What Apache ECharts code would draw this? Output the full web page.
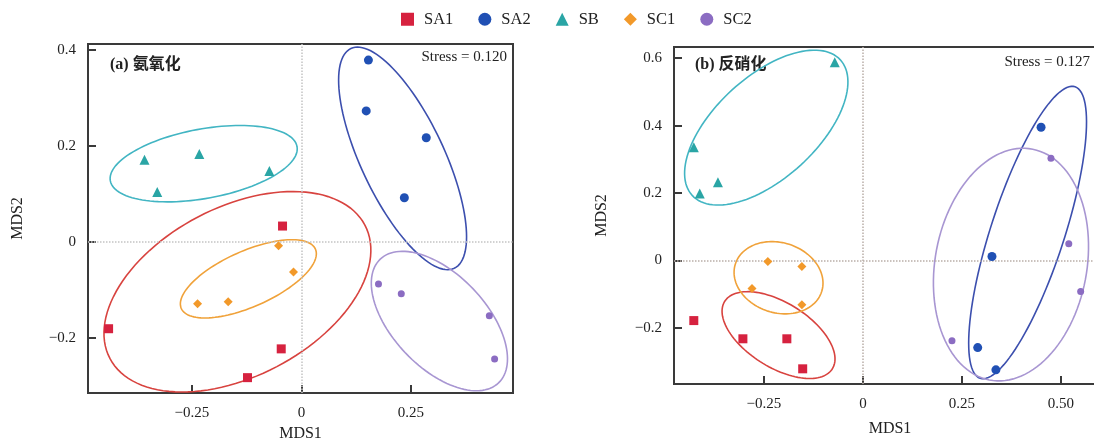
<!DOCTYPE html>
<html>
<head>
<meta charset="utf-8">
<script src="https://cdn.jsdelivr.net/npm/echarts@6/dist/echarts.min.js"></script>
<style>
  html, body { margin: 0; padding: 0; background: #fff; }
  #chart { width: 1094px; height: 439px; }
</style>
</head>
<body>
<div id="chart"></div>
<script>
// groups and legend
const groups = ["SA1", "SA2", "SB", "SC1", "SC2"];

// panel (a) sample points [MDS1, MDS2]
const aSA1 = [[-0.043, 0.033], [-0.440, -0.181], [-0.046, -0.223], [-0.123, -0.283]];
const aSA2 = [[0.153, 0.379], [0.148, 0.273], [0.285, 0.217], [0.235, 0.092]];
const aSB = [[-0.358, 0.171], [-0.233, 0.183], [-0.073, 0.148], [-0.329, 0.104]];
const aSC1 = [[-0.237, -0.129], [-0.167, -0.125], [-0.052, -0.008], [-0.018, -0.063]];
const aSC2 = [[0.176, -0.088], [0.228, -0.108], [0.429, -0.154], [0.441, -0.244]];

// panel (b) sample points
const bSA1 = [[-0.427, -0.178], [-0.303, -0.232], [-0.192, -0.232], [-0.152, -0.321]];
const bSA2 = [[0.450, 0.395], [0.326, 0.012], [0.290, -0.258], [0.336, -0.324]];
const bSB = [[-0.071, 0.588], [-0.427, 0.336], [-0.366, 0.232], [-0.412, 0.199]];
const bSC1 = [[-0.240, -0.003], [-0.154, -0.018], [-0.280, -0.083], [-0.154, -0.131]];
const bSC2 = [[0.475, 0.303], [0.520, 0.050], [0.550, -0.092], [0.225, -0.238]];

// confidence ellipses: [centerX, centerY, majorEndX, majorEndY, minorEndX, minorEndY]
const ellA = {
  SA1: [-0.146, -0.104, 0.145, 0.035, -0.056, -0.260],
  SA2: [0.231, 0.174, 0.349, -0.055, 0.317, 0.211],
  SB: [-0.223, 0.163, -0.010, 0.199, -0.208, 0.092],
  SC1: [-0.121, -0.077, 0.032, -0.015, -0.095, -0.130],
  SC2: [0.315, -0.165, 0.450, -0.294, 0.392, -0.098]
};
const ellB = {
  SA1: [-0.213, -0.221, -0.074, -0.314, -0.181, -0.132],
  SA2: [0.416, 0.083, 0.296, -0.349, 0.504, 0.048],
  SB: [-0.244, 0.394, -0.057, 0.595, -0.157, 0.283],
  SC1: [-0.213, -0.051, -0.104, -0.092, -0.186, 0.048],
  SC2: [0.374, -0.012, 0.319, -0.354, 0.562, -0.056]
};

// ticks
const aXTicks = [-0.25, 0, 0.25];
const aYTicks = [-0.2, 0, 0.2, 0.4];
const bXTicks = [-0.25, 0, 0.25, 0.5];
const bYTicks = [-0.2, 0, 0.2, 0.4, 0.6];
const xTickText = { "-0.25": "\u22120.25", "0": "0", "0.25": "0.25", "0.5": "0.50" };
const yTickText = { "-0.2": "\u22120.2", "0": "0", "0.2": "0.2", "0.4": "0.4", "0.6": "0.6" };

const stressA = "Stress = 0.120";
const stressB = "Stress = 0.127";

const style = {
  SA1: { symbol: "rect", size: 9, color: "#d6223f", ring: "#d8433f" },
  SA2: { symbol: "circle", size: 9, color: "#2050b4", ring: "#3c4fae" },
  SB: { symbol: "triangle", size: 10, color: "#2aa5a5", ring: "#42b5c3" },
  SC1: { symbol: "diamond", size: 9, color: "#f2992a", ring: "#f0a23a" },
  SC2: { symbol: "circle", size: 7, color: "#8b6cc2", ring: "#a896d2" }
};

const serif = "'Liberation Serif', 'Noto Sans CJK SC', serif";
const axisColor = "#3a3a3a";

function renderEllipse(params, api) {
  const c = api.coord([api.value(0), api.value(1)]);
  const m = api.coord([api.value(2), api.value(3)]);
  const n = api.coord([api.value(4), api.value(5)]);
  const ux = m[0] - c[0], uy = m[1] - c[1];
  const vx = n[0] - c[0], vy = n[1] - c[1];
  const pts = [];
  for (let i = 0; i <= 120; i++) {
    const t = (i / 120) * Math.PI * 2;
    pts.push([c[0] + ux * Math.cos(t) + vx * Math.sin(t), c[1] + uy * Math.cos(t) + vy * Math.sin(t)]);
  }
  return {
    type: "polyline",
    shape: { points: pts },
    style: { stroke: api.visual("color"), fill: null, lineWidth: 1.6 }
  };
}

function xAxisOf(idx, min, max, ticks, nameGap) {
  return {
    gridIndex: idx, type: "value", min, max,
    name: "MDS1", nameLocation: "middle", nameGap,
    nameTextStyle: { fontFamily: serif, fontSize: 16, color: "#222" },
    axisLine: { show: true, onZero: false, lineStyle: { color: axisColor, width: 2 } },
    axisTick: { show: true, inside: true, length: 8, customValues: ticks, lineStyle: { color: axisColor, width: 2 } },
    axisLabel: {
      customValues: ticks, margin: 13, fontFamily: serif, fontSize: 15, color: "#222",
      formatter: (v) => xTickText[String(v)]
    },
    splitLine: { show: false }
  };
}

function yAxisOf(idx, min, max, ticks, nameGap) {
  return {
    gridIndex: idx, type: "value", min, max,
    name: "MDS2", nameLocation: "middle", nameGap,
    nameTextStyle: { fontFamily: serif, fontSize: 16, color: "#222" },
    axisLine: { show: true, onZero: false, lineStyle: { color: axisColor, width: 2 } },
    axisTick: { show: true, inside: true, length: 8, customValues: ticks, lineStyle: { color: axisColor, width: 2 } },
    axisLabel: {
      customValues: ticks, margin: 12, fontFamily: serif, fontSize: 15, color: "#222",
      formatter: (v) => yTickText[String(v)]
    },
    splitLine: { show: false }
  };
}

const pointsA = { SA1: aSA1, SA2: aSA2, SB: aSB, SC1: aSC1, SC2: aSC2 };
const pointsB = { SA1: bSA1, SA2: bSA2, SB: bSB, SC1: bSC1, SC2: bSC2 };

const series = [];
[[pointsA, 0], [pointsB, 1]].forEach(([pts, idx]) => {
  groups.forEach((g) => {
    series.push({
      name: g, type: "scatter", xAxisIndex: idx, yAxisIndex: idx,
      data: pts[g], symbol: style[g].symbol, symbolSize: style[g].size,
      itemStyle: { color: style[g].color, opacity: 1 }, z: 5
    });
  });
});
[[ellA, 0], [ellB, 1]].forEach(([ell, idx]) => {
  groups.forEach((g) => {
    series.push({
      name: g, type: "custom", xAxisIndex: idx, yAxisIndex: idx,
      renderItem: renderEllipse,
      dimensions: ["cx", "cy", "mx", "my", "nx", "ny"],
      encode: { x: [0, 2, 4], y: [1, 3, 5] },
      data: [ell[g]], itemStyle: { color: style[g].ring }, z: 3, silent: true
    });
  });
});
[0, 1].forEach((idx) => {
  series.push({
    type: "scatter", xAxisIndex: idx, yAxisIndex: idx, data: [], silent: true,
    markLine: {
      silent: true, symbol: "none", label: { show: false },
      lineStyle: { color: idx ? "#b9aea8" : "#c4c4c4", type: "dotted", width: 1.5 },
      data: [{ xAxis: 0 }, { yAxis: 0 }]
    },
    z: 1
  });
});

const chart = echarts.init(document.getElementById("chart"));
chart.setOption({
  animation: false,
  backgroundColor: "#fff",
  legend: {
    data: groups.map((g) => ({ name: g, icon: style[g].symbol })),
    left: 396, top: 6, itemWidth: 13, itemHeight: 13, itemGap: 25,
    textStyle: { fontFamily: serif, fontSize: 16.5, color: "#222", padding: [0, 0, 0, 5] }
  },
  grid: [
    { left: 88, top: 44, width: 425, height: 349, show: true, borderColor: axisColor, borderWidth: 2, outerBoundsMode: "none" },
    { left: 674, top: 47, width: 432, height: 337, show: true, borderColor: axisColor, borderWidth: 2, outerBoundsMode: "none" }
  ],
  xAxis: [
    xAxisOf(0, -0.487, 0.483, aXTicks, 32),
    xAxisOf(1, -0.477, 0.614, bXTicks, 37)
  ],
  yAxis: [
    yAxisOf(0, -0.315, 0.4125, aYTicks, 62),
    yAxisOf(1, -0.366, 0.633, bYTicks, 64)
  ],
  graphic: [
    { type: "text", left: 110, top: 57, style: { text: "(a) 氨氧化", font: "bold 16px " + serif, fill: "#222" } },
    { type: "text", left: 695, top: 57, style: { text: "(b) 反硝化", font: "bold 16px " + serif, fill: "#222" } },
    { type: "text", right: 587, top: 50, style: { text: stressA, font: "15px " + serif, fill: "#222" } },
    { type: "text", right: 4, top: 55, style: { text: stressB, font: "15px " + serif, fill: "#222" } }
  ],
  series
});
</script>
</body>
</html>
